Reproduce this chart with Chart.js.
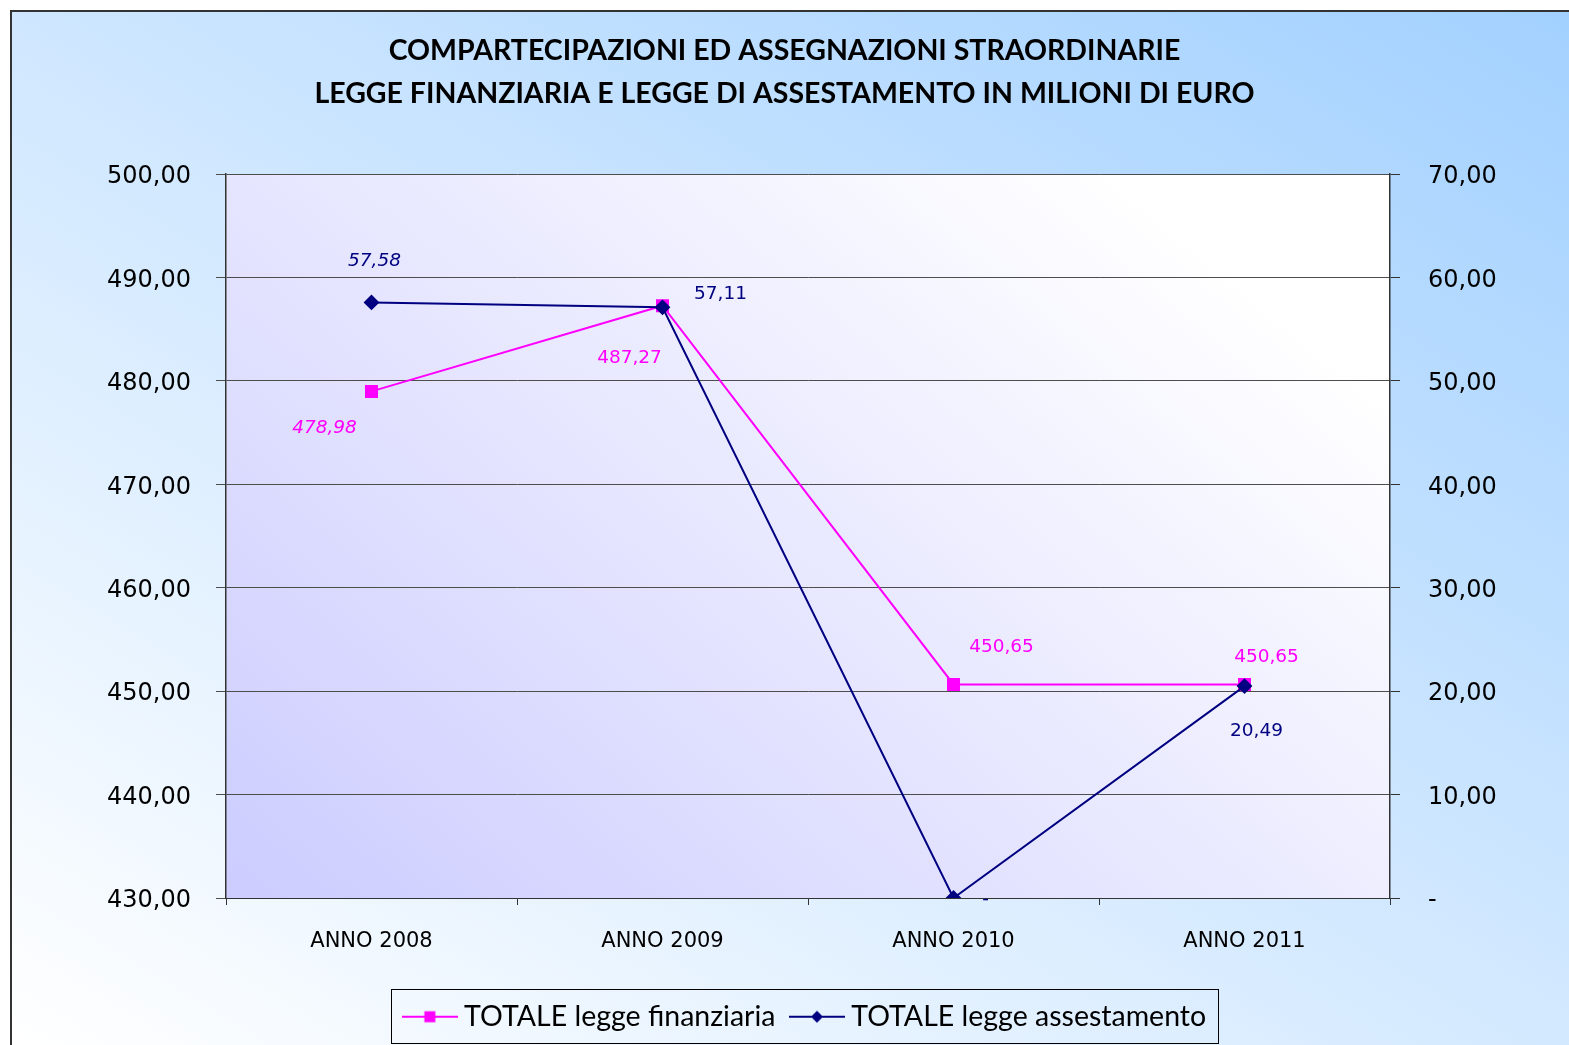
<!DOCTYPE html>
<html>
<head>
<meta charset="utf-8">
<script src="https://cdn.jsdelivr.net/npm/chart.js@4.4.0/dist/chart.umd.min.js"></script>
<style>
html,body{margin:0;padding:0;background:#fff;}
#wrap{width:1569px;height:1045px;}
</style>
</head>
<body>
<div id="wrap"><canvas id="c" width="1569" height="1045"></canvas></div>
<script>
const categories = ['ANNO 2008', 'ANNO 2009', 'ANNO 2010', 'ANNO 2011'];
const finanziaria = [478.98, 487.27, 450.65, 450.65];
const assestamento = [57.58, 57.11, 0, 20.49];
const seriesNames = ['TOTALE legge finanziaria', 'TOTALE legge assestamento'];
const leftTicks = [430, 440, 450, 460, 470, 480, 490, 500];
const rightTicks = [0, 10, 20, 30, 40, 50, 60, 70];
const titleLines = ['COMPARTECIPAZIONI ED ASSEGNAZIONI STRAORDINARIE', 'LEGGE FINANZIARIA E LEGGE DI ASSESTAMENTO IN MILIONI DI EURO'];

const MAGENTA = '#FF00FF';
const NAVY = '#000080';

function fmt(v) {
  if (Math.abs(v) < 1e-9) return '-';
  return v.toFixed(2).replace('.', ',');
}

// label placement (style only): offsets from point, italic flag
const labelStyle = [
  { color: MAGENTA, offsets: [[-47, 37], [-33, 53], [48, -37], [22, -27]], italic: [true, false, false, false] },
  { color: NAVY, offsets: [[3, -41], [58, -13], [32, 1], [12, 45]], italic: [true, false, false, false] }
];

function legendIcon(color, style) {
  const c = document.createElement('canvas');
  c.width = 56; c.height = 20;
  const g = c.getContext('2d');
  g.strokeStyle = color; g.lineWidth = 2;
  g.beginPath(); g.moveTo(0, 10); g.lineTo(56, 10); g.stroke();
  g.fillStyle = color;
  if (style === 'rect') {
    g.fillRect(28 - 5.5, 10 - 5.5, 11, 11);
  } else {
    g.beginPath(); g.moveTo(28, 4); g.lineTo(34, 10); g.lineTo(28, 16); g.lineTo(22, 10); g.closePath(); g.fill();
  }
  return c;
}

const bgPlugin = {
  id: 'bg',
  afterLayout(chart) {
    const lg = chart.legend;
    if (lg) { lg.left = chart.chartArea.left; lg.right = chart.chartArea.right; }
  },
  beforeDraw(chart) {
    const ctx = chart.ctx;
    const W = chart.width, H = chart.height;
    ctx.save();
    ctx.fillStyle = '#ffffff';
    ctx.fillRect(0, 0, W, H);
    const g = ctx.createLinearGradient(10, H, W * 0.62, -W * 0.35);
    g.addColorStop(0, '#FFFFFF');
    g.addColorStop(1, '#99CCFF');
    ctx.fillStyle = g;
    ctx.fillRect(10, 10, W - 10, H - 10);
    ctx.strokeStyle = '#333333';
    ctx.lineWidth = 2;
    ctx.beginPath();
    ctx.moveTo(11, H); ctx.lineTo(11, 11); ctx.lineTo(W, 11);
    ctx.stroke();
    const a = chart.chartArea;
    const pw = a.right - a.left, ph = a.bottom - a.top;
    const g2 = ctx.createLinearGradient(a.left, a.bottom, a.left + pw * 0.62, a.bottom - pw * 0.62 - ph * 0.2);
    g2.addColorStop(0, '#CCCCFF');
    g2.addColorStop(1, '#FFFFFF');
    ctx.fillStyle = g2;
    ctx.fillRect(a.left, a.top, pw, ph);
    ctx.restore();
  }
};

const labelsPlugin = {
  id: 'vlabels',
  afterDatasetsDraw(chart) {
    const ctx = chart.ctx;
    ctx.save();
    ctx.textAlign = 'center';
    ctx.textBaseline = 'middle';
    chart.data.datasets.forEach((ds, di) => {
      const meta = chart.getDatasetMeta(di);
      const st = labelStyle[di];
      meta.data.forEach((pt, i) => {
        const v = ds.data[i];
        ctx.font = (st.italic[i] ? 'italic ' : '') + '18.5px "DejaVu Sans"';
        ctx.fillStyle = st.color;
        ctx.fillText(fmt(v), pt.x + st.offsets[i][0], pt.y + st.offsets[i][1]);
      });
    });
    ctx.restore();
  }
};

const legendBorderPlugin = {
  id: 'legendBorder',
  afterDraw(chart) {
    const lg = chart.legend;
    if (!lg || !lg.legendHitBoxes || !lg.legendHitBoxes.length) return;
    const hb = lg.legendHitBoxes;
    const first = hb[0], last = hb[hb.length - 1];
    const ctx = chart.ctx;
    const l = first.left - 19, r = last.left + last.width + 12;
    const t = lg.top + 8, b = lg.top + 62;
    ctx.save();
    ctx.strokeStyle = '#000000';
    ctx.lineWidth = 1;
    ctx.strokeRect(Math.round(l) + 0.5, Math.round(t) + 0.5, Math.round(r - l), Math.round(b - t));
    ctx.restore();
  }
};

Chart.defaults.font.family = '"DejaVu Sans"';
Chart.defaults.color = '#000000';

new Chart(document.getElementById('c'), {
  type: 'line',
  data: {
    labels: categories,
    datasets: [
      {
        label: seriesNames[0], data: finanziaria, yAxisID: 'y',
        borderColor: MAGENTA, backgroundColor: MAGENTA, borderWidth: 2,
        pointStyle: 'rect', pointRadius: 7.8, pointHoverRadius: 7.8, tension: 0, order: 2
      },
      {
        label: seriesNames[1], data: assestamento, yAxisID: 'y2',
        borderColor: NAVY, backgroundColor: NAVY, borderWidth: 2,
        pointStyle: 'rectRot', pointRadius: 6.5, pointHoverRadius: 6.5, tension: 0, order: 1
      }
    ]
  },
  options: {
    responsive: false,
    animation: false,
    events: [],
    layout: { padding: { top: 0, left: 0, right: 0, bottom: 4 } },
    plugins: {
      title: {
        display: true,
        text: titleLines,
        color: '#000000',
        font: { family: 'Lato', size: 28.5, weight: 'bold', lineHeight: 1.5088 },
        padding: { top: 29.5, bottom: 58.5 }
      },
      legend: {
        display: true,
        position: 'bottom',
        labels: {
          color: '#000000',
          font: { family: 'Lato', size: 28.5 },
          usePointStyle: true,
          pointStyleWidth: 40,
          padding: 21.5,
          generateLabels(chart) {
            return chart.data.datasets.map((ds, i) => ({
              text: ds.label,
              pointStyle: legendIcon(ds.borderColor, ds.pointStyle),
              fillStyle: ds.borderColor,
              strokeStyle: ds.borderColor,
              lineWidth: 0,
              datasetIndex: i,
              hidden: false
            }));
          }
        }
      },
      tooltip: { enabled: false }
    },
    scales: {
      x: {
        type: 'category',
        offset: true,
        afterFit(s) { s.height = 83; },
        grid: { display: true, offset: true, drawOnChartArea: false, drawTicks: true, tickLength: 7, color: '#333333' },
        border: { display: true, color: '#333333', width: 1 },
        ticks: { font: { size: 21 }, color: '#000000', padding: 24 }
      },
      y: {
        type: 'linear', position: 'left', min: leftTicks[0], max: leftTicks[leftTicks.length - 1],
        afterFit(s) { s.width = 226; },
        afterBuildTicks(s) { s.ticks = leftTicks.map(v => ({ value: v })); },
        grid: { color: '#4d4d4d', lineWidth: 1, tickLength: 10, drawTicks: true },
        border: { display: true, color: '#333333', width: 1.5 },
        ticks: { font: { size: 24 }, color: '#000000', padding: 25, labelOffset: 3, callback: v => fmt(v) }
      },
      y2: {
        type: 'linear', position: 'right', min: rightTicks[0], max: rightTicks[rightTicks.length - 1],
        afterFit(s) { s.width = 179; },
        afterBuildTicks(s) { s.ticks = rightTicks.map(v => ({ value: v })); },
        grid: { drawOnChartArea: false, color: '#333333', tickLength: 10, drawTicks: true },
        border: { display: true, color: '#333333', width: 1.5 },
        ticks: { font: { size: 24 }, color: '#000000', padding: 28, labelOffset: 3, callback: v => fmt(v) }
      }
    }
  },
  plugins: [bgPlugin, labelsPlugin, legendBorderPlugin]
});
</script>
</body>
</html>
